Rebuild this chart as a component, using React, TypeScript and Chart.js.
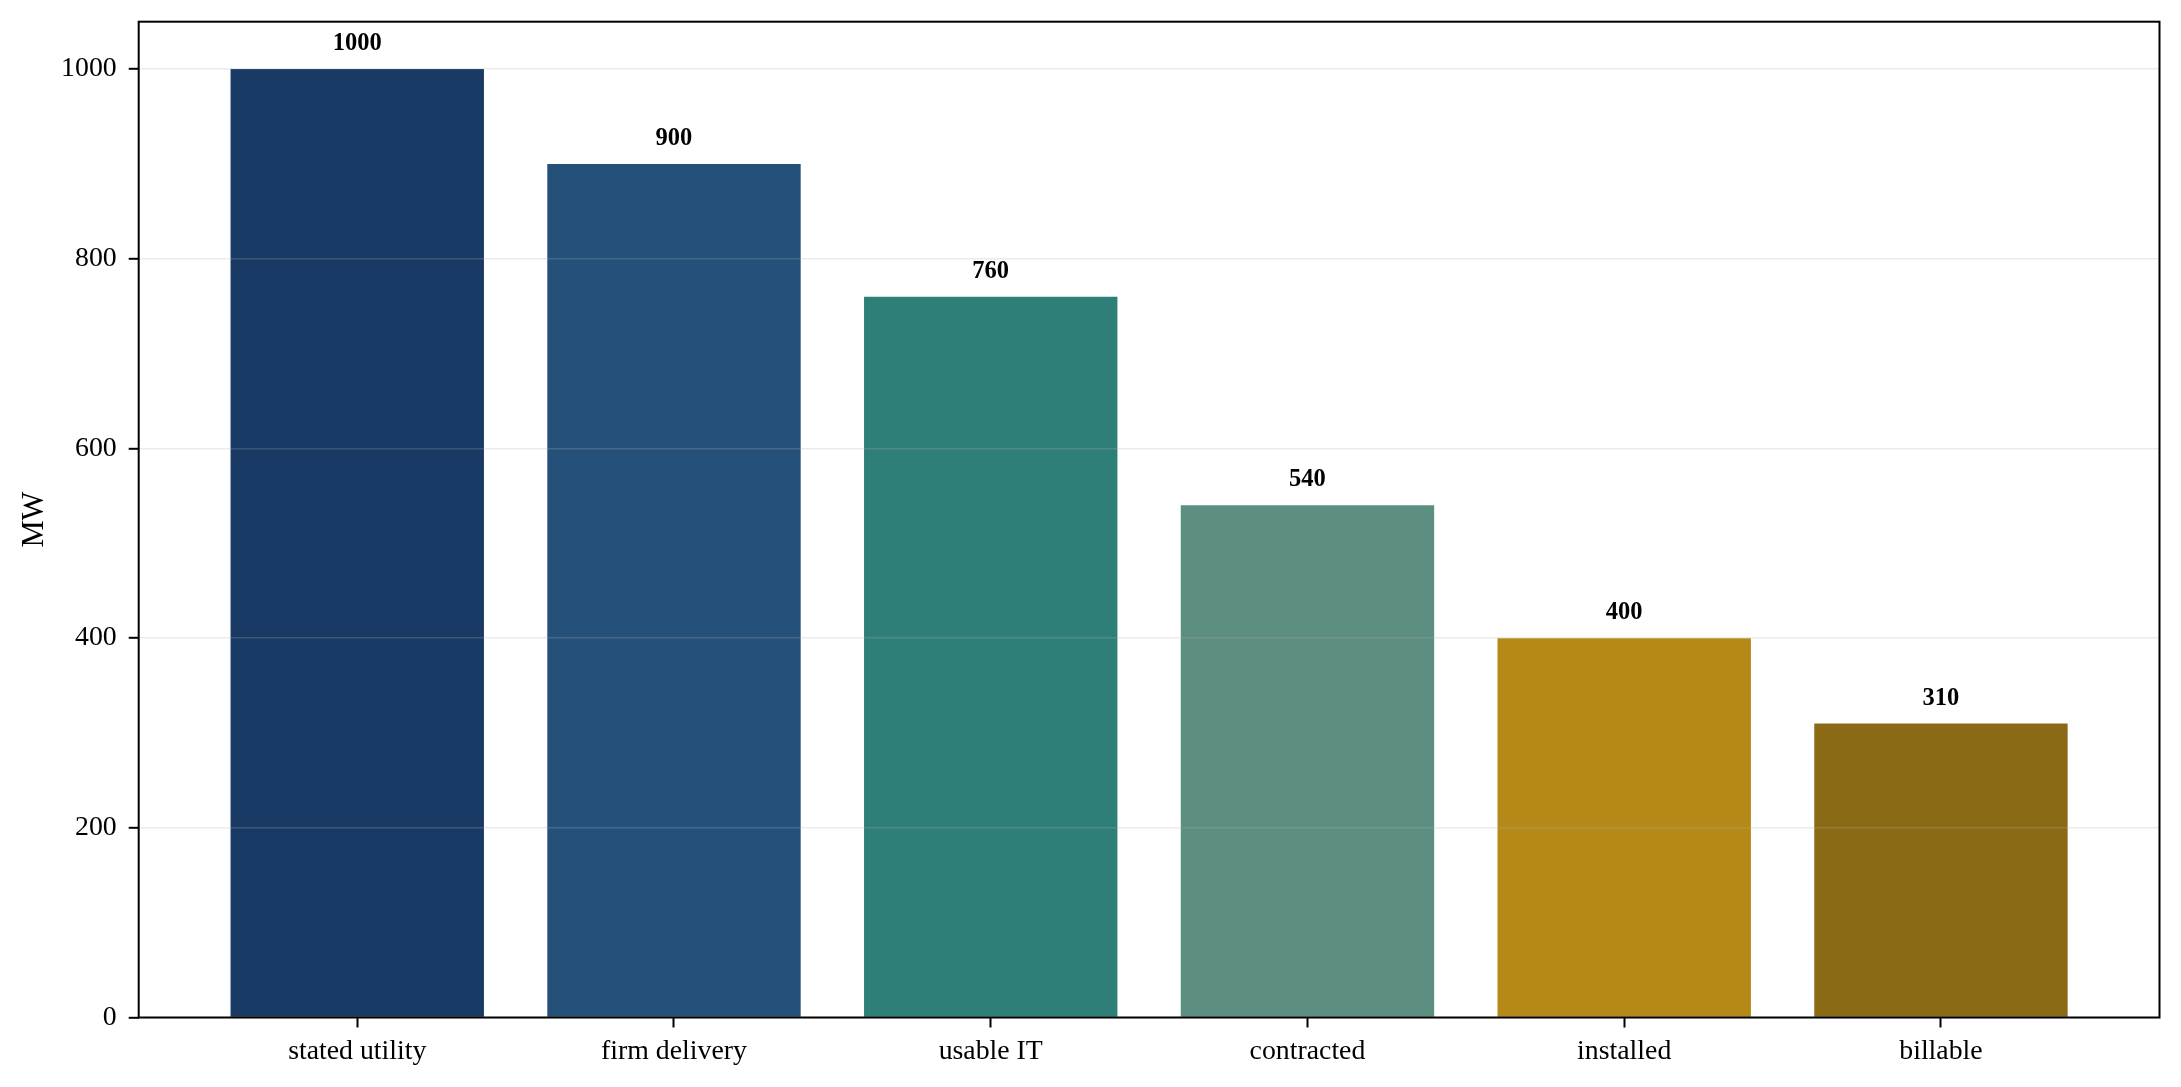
import React, { useEffect, useRef } from "react";
import { Chart, registerables } from "chart.js";

Chart.register(...registerables);

const categories = ["stated utility", "firm delivery", "usable IT", "contracted", "installed", "billable"];
const values = [1000, 900, 760, 540, 400, 310];
const barColors = ["#193A64", "#24507A", "#2E7F78", "#5C8F81", "#B58918", "#8B6A16"];
const yTicks = [0, 200, 400, 600, 800, 1000];
const yLabel = "MW";

const FONT = "'Liberation Serif', 'Times New Roman', serif";

function zeroPad(scale: any) {
  scale.paddingTop = 0;
  scale.paddingBottom = 0;
  scale.paddingLeft = 0;
  scale.paddingRight = 0;
}

export default function App() {
  const ref = useRef<HTMLCanvasElement | null>(null);

  useEffect(() => {
    if (!ref.current) return;
    const framePlugin = {
      id: "frame",
      afterDatasetsDraw(chart: any) {
        const { ctx } = chart;
        const meta = chart.getDatasetMeta(0);
        ctx.save();
        ctx.fillStyle = "#000";
        ctx.font = `bold 24.5px ${FONT}`;
        ctx.textAlign = "center";
        ctx.textBaseline = "alphabetic";
        meta.data.forEach((bar: any, i: number) => {
          ctx.fillText(String(values[i]), bar.x, bar.y - 19);
        });
        ctx.restore();
      },
      afterDraw(chart: any) {
        const { ctx, chartArea } = chart;
        ctx.save();
        ctx.strokeStyle = "#000";
        ctx.lineWidth = 2;
        ctx.strokeRect(chartArea.left, chartArea.top, chartArea.right - chartArea.left, chartArea.bottom - chartArea.top);
        ctx.fillStyle = "#000";
        ctx.font = `30.5px ${FONT}`;
        ctx.textAlign = "center";
        ctx.textBaseline = "alphabetic";
        ctx.translate(43, (chartArea.top + chartArea.bottom) / 2);
        ctx.rotate(-Math.PI / 2);
        ctx.fillText(yLabel, 0, 0);
        ctx.restore();
      },
    };

    const chart = new Chart(ref.current, {
      type: "bar",
      data: {
        datasets: [
          {
            data: values.map((v, i) => ({ x: i, y: v })),
            backgroundColor: barColors,
            borderWidth: 0,
            barPercentage: 0.8,
            categoryPercentage: 1.0,
          },
        ],
      },
      options: {
        animation: false,
        responsive: false,
        devicePixelRatio: 1,
        layout: { padding: { left: 0, top: 21.7, right: 21.5, bottom: 0 } },
        plugins: { legend: { display: false }, tooltip: { enabled: false }, title: { display: false } },
        scales: {
          x: {
            type: "linear",
            min: -0.69,
            max: 5.69,
            offset: false,
            afterBuildTicks: (scale: any) => {
              scale.ticks = categories.map((_, i) => ({ value: i }));
            },
            afterFit: (scale: any) => {
              scale.height = 69.5;
              zeroPad(scale);
            },
            ticks: {
              autoSkip: false,
              maxRotation: 0,
              color: "#000",
              font: { family: FONT, size: 27.8 },
              padding: 8,
              callback: (v: any) => categories[Math.round(Number(v))] ?? "",
            },
            grid: {
              offset: false,
              drawOnChartArea: false,
              drawTicks: true,
              tickLength: 10,
              tickColor: "#000",
              tickWidth: 2,
            },
            border: { display: false },
          },
          y: {
            type: "linear",
            min: 0,
            max: 1050,
            afterBuildTicks: (scale: any) => {
              scale.ticks = yTicks.map((v) => ({ value: v }));
            },
            afterFit: (scale: any) => {
              scale.width = 138.7;
              zeroPad(scale);
            },
            ticks: {
              color: "#000",
              font: { family: FONT, size: 27.8 },
              padding: 12,
              callback: (v: any) => String(v),
            },
            grid: {
              color: "rgba(176,176,176,0.25)",
              lineWidth: 1.6,
              z: 1,
              drawTicks: true,
              tickLength: 10,
              tickColor: "#000",
              tickWidth: 2,
            },
            border: { display: false },
          },
        },
      },
      plugins: [framePlugin],
    } as any);
    return () => chart.destroy();
  }, []);

  return (
    <div style={{ position: "absolute", left: 0, top: 0, width: 2181, height: 1087, background: "#fff" }}>
      <canvas ref={ref} width={2181} height={1087} style={{ width: 2181, height: 1087, display: "block" }} />
    </div>
  );
}
